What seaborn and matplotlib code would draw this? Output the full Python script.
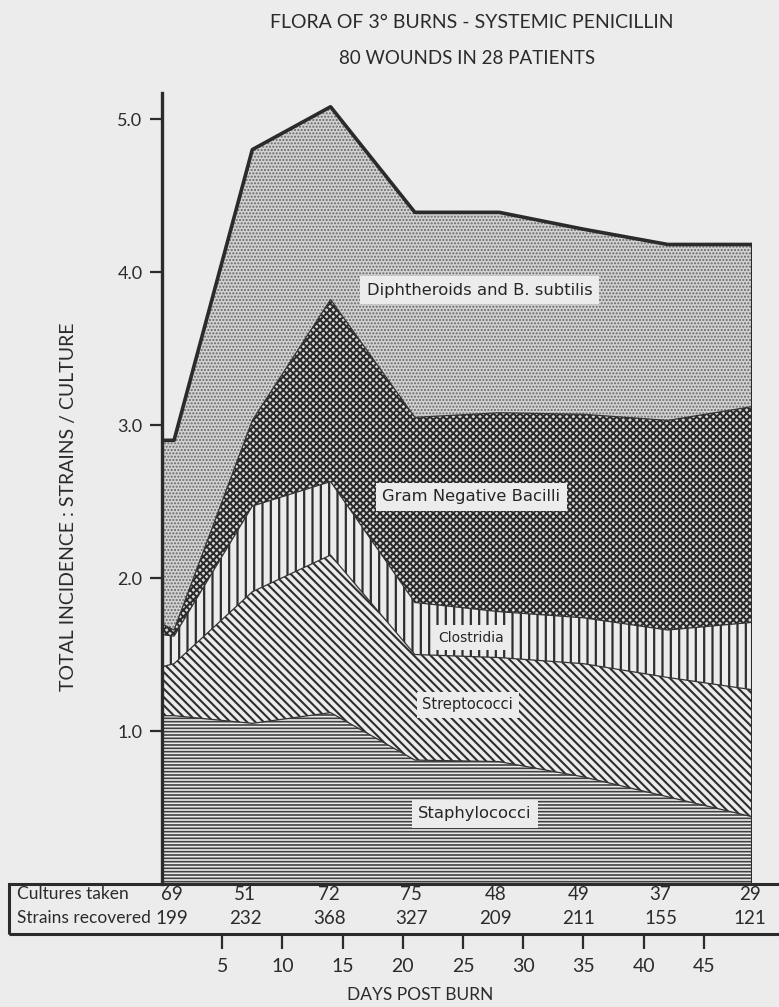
import numpy as np
import pandas as pd
import matplotlib
matplotlib.use("Agg")
import matplotlib.pyplot as plt
import matplotlib.transforms as mtransforms
from matplotlib.patches import Rectangle
import seaborn as sns

# ---------------- data ----------------
days = [0, 1, 7.5, 14, 21, 28, 35, 42, 49]
staphylococci = [1.10, 1.10, 1.05, 1.12, 0.81, 0.80, 0.70, 0.57, 0.44]
streptococci = [0.32, 0.34, 0.86, 1.03, 0.69, 0.68, 0.74, 0.78, 0.83]
clostridia = [0.21, 0.18, 0.56, 0.48, 0.34, 0.30, 0.30, 0.31, 0.44]
gram_negative = [0.07, 0.04, 0.56, 1.19, 1.21, 1.30, 1.33, 1.37, 1.41]
diphtheroids = [1.20, 1.24, 1.77, 1.26, 1.34, 1.31, 1.21, 1.15, 1.06]

series_names = ["Staphylococci", "Streptococci", "Clostridia",
                "Gram Negative Bacilli", "Diphtheroids and B. subtilis"]

cultures_taken = [69, 51, 72, 75, 48, 49, 37, 29]
strains_recovered = [199, 232, 368, 327, 209, 211, 155, 121]
row_labels = ["Cultures taken", "Strains recovered"]

x_ticks = [5, 10, 15, 20, 25, 30, 35, 40, 45]
y_ticks = [1.0, 2.0, 3.0, 4.0, 5.0]
y_ticklabels = ["1.0", "2.0", "3.0", "4.0", "5.0"]

title1 = "FLORA OF 3° BURNS - SYSTEMIC PENICILLIN"
title2 = "80 WOUNDS IN 28 PATIENTS"
y_title = "TOTAL INCIDENCE : STRAINS / CULTURE"
x_title = "DAYS POST BURN"

# ---------------- layout / style ----------------
W, H = 779, 1007
BG = "#ececec"
INK = "#2b2b2b"
table_cols_x = [0.8, 6.9, 13.9, 20.7, 27.7, 34.6, 41.4, 48.8]
label_pos = [(26.0, 0.46), (25.4, 1.17), (25.7, 1.61), (25.7, 2.53), (26.4, 3.88)]
label_size = [11.8, 10.5, 10.0, 11.8, 11.8]
hatches = ["-----", "\\\\\\\\", "||", "xxxxx", "....."]
faces = [BG, BG, BG, "#d8d8d8", "#d2d2d2"]
hatch_cols = ["#404040", "#2e2e2e", "#2e2e2e", "#2a2a2a", "#666666"]
hatch_lws = [1.2, 1.5, 1.6, 1.45, 1.0]

sns.set_theme(style="white")
plt.rcParams["font.family"] = ["DejaVu Sans"]
narrow = ["Lato", "DejaVu Sans"]

fig = plt.figure(figsize=(W / 100, H / 100), dpi=100, facecolor=BG)
ax_left, ax_right, ax_top, ax_bot = 162, 752, 93, 884
ax = fig.add_axes([ax_left / W, 1 - ax_bot / H, (ax_right - ax_left) / W, (ax_bot - ax_top) / H])
ax.set_facecolor(BG)

df = pd.DataFrame({"day": days, series_names[0]: staphylococci,
                   series_names[1]: streptococci, series_names[2]: clostridia,
                   series_names[3]: gram_negative, series_names[4]: diphtheroids})
cum = df[series_names].cumsum(axis=1)
base = np.zeros(len(days))
for i, name in enumerate(series_names):
    top = cum[name].values
    with plt.rc_context({"hatch.linewidth": hatch_lws[i]}):
        coll = ax.fill_between(df["day"], base, top, facecolor=faces[i],
                               edgecolor=hatch_cols[i], hatch=hatches[i], linewidth=0)
    if hasattr(coll, "set_hatch_linewidth"):
        coll.set_hatch_linewidth(hatch_lws[i])
    base = top

# boundaries between layers
long = cum.assign(day=df["day"]).melt(id_vars="day", var_name="series", value_name="cum")
inner = long[long["series"] != series_names[-1]]
sns.lineplot(data=inner, x="day", y="cum", units="series", estimator=None,
             color="#333333", linewidth=0.9, ax=ax, legend=False)
total = long[long["series"] == series_names[-1]]
sns.lineplot(data=total, x="day", y="cum", color=INK, linewidth=2.6, ax=ax, legend=False)
ax.vlines(days[-1], 0, cum[series_names[-1]].values[-1], color=INK, linewidth=2.2)

# area labels
for (lx, ly), name, fs in zip(label_pos, series_names, label_size):
    ax.text(lx, ly, name, ha="center", va="center", fontsize=fs, color="#262626",
            bbox=dict(boxstyle="square,pad=0.4", facecolor=BG, edgecolor="none"))

ax.set_xlim(0, days[-1])
ax.set_ylim(0, 5.17)
ax.set_xticks(x_ticks)
ax.tick_params(axis="x", direction="in", length=9, width=1.6, colors=INK,
               labelbottom=False, bottom=True)
ax.set_yticks(y_ticks)
ax.set_yticklabels(y_ticklabels)
ax.tick_params(axis="y", direction="out", length=9, width=1.6, colors=INK,
               labelsize=13, pad=5, left=True)
for lab in ax.get_yticklabels():
    lab.set_family(narrow)
for s in ["top", "right", "bottom"]:
    ax.spines[s].set_visible(False)
ax.spines["left"].set_linewidth(2.4)
ax.spines["left"].set_color(INK)
ax.set_xlabel("")
ax.set_ylabel(y_title, fontsize=14, color=INK, family=narrow)
ax.yaxis.set_label_coords(-(ax_left - 77) / (ax_right - ax_left), (ax_bot - 507) / (ax_bot - ax_top))

# table box below the plot
tbl_bot = 934
box = Rectangle((9 / W, 1 - tbl_bot / H), 1.2, (tbl_bot - ax_bot) / H,
                transform=fig.transFigure, fill=False, edgecolor=INK, linewidth=2.2,
                clip_on=False)
fig.add_artist(box)
trans = mtransforms.blended_transform_factory(ax.transData, fig.transFigure)
row_y = [1 - 894 / H, 1 - 918 / H]
for ry, rl in zip(row_y, row_labels):
    fig.text(17 / W, ry, rl, ha="left", va="center", fontsize=12.5, color=INK, family=narrow)
for cx, c, s in zip(table_cols_x, cultures_taken, strains_recovered):
    ax.text(cx, row_y[0], str(c), transform=trans, ha="center", va="center",
            fontsize=13.5, color=INK, family=narrow, clip_on=False)
    ax.text(cx, row_y[1], str(s), transform=trans, ha="center", va="center",
            fontsize=13.5, color=INK, family=narrow, clip_on=False)

# day ticks below the table
sec = ax.secondary_xaxis(-(tbl_bot - ax_bot) / (ax_bot - ax_top))
sec.set_xticks(x_ticks)
sec.xaxis.set_ticks_position("bottom")
sec.tick_params(direction="out", length=11, width=1.6, colors=INK, labelsize=14, pad=6)
for lab in sec.get_xticklabels():
    lab.set_family(narrow)
for s in sec.spines.values():
    s.set_visible(False)

fig.text(420 / W, 1 - 995 / H, x_title, ha="center", va="center", fontsize=12.5,
         color=INK, family=narrow)
fig.text(472 / W, 1 - 22 / H, title1, ha="center", va="center", fontsize=14,
         color=INK, family=narrow)
fig.text(467 / W, 1 - 58 / H, title2, ha="center", va="center", fontsize=13.5,
         color=INK, family=narrow)

fig.savefig("out.png", dpi=100, facecolor=BG)
